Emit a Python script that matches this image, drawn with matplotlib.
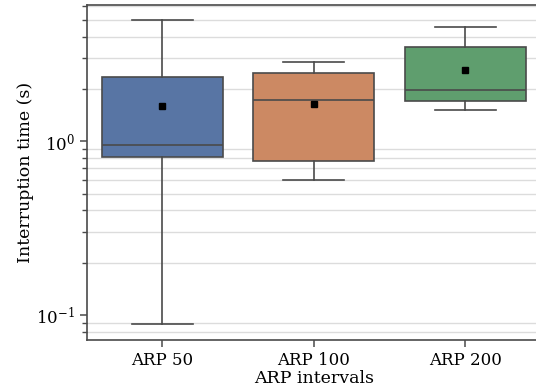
import numpy as np
import matplotlib
matplotlib.use('Agg')
import matplotlib.pyplot as plt
from matplotlib.ticker import LogLocator, NullFormatter

plt.rcParams['font.family'] = ['DejaVu Serif']

# box statistics (seconds)
categories = ['ARP 50', 'ARP 100', 'ARP 200']
whislo = [0.0884, 0.599, 1.52]
q1 = [0.815, 0.773, 1.70]
med = [0.948, 1.73, 1.97]
q3 = [2.35, 2.46, 3.48]
whishi = [4.99, 2.86, 4.53]
means = [1.60, 1.65, 2.56]

colors = ['#5875a4', '#cc8963', '#5f9e6e']
edge = '#4a4a4a'

stats = []
for i in range(len(categories)):
    stats.append({'label': categories[i], 'whislo': whislo[i], 'q1': q1[i], 'med': med[i],
                  'q3': q3[i], 'whishi': whishi[i], 'mean': means[i], 'fliers': []})

fig = plt.figure(figsize=(5.36, 3.9), dpi=100)
ax = fig.add_axes([86.5 / 536, 50 / 390, 454.5 / 536, 335 / 390])

pos = np.arange(len(categories))
bp = ax.bxp(stats, positions=pos, widths=0.8, patch_artist=True, showmeans=True,
            showfliers=False, capwidths=0.4,
            boxprops=dict(edgecolor=edge, linewidth=1.2),
            whiskerprops=dict(color=edge, linewidth=1.2),
            capprops=dict(color=edge, linewidth=1.2),
            medianprops=dict(color=edge, linewidth=1.2),
            meanprops=dict(marker='s', markerfacecolor='black', markeredgecolor='black',
                           markersize=4.5))
for patch, c in zip(bp['boxes'], colors):
    patch.set_facecolor(c)
    patch.set_zorder(2)

ax.set_yscale('log')
ax.set_ylim(0.0718, 6.09)
ax.set_xlim(-0.5, 2.5)
ax.yaxis.set_minor_locator(LogLocator(base=10, subs=np.arange(2, 10)))
ax.yaxis.set_minor_formatter(NullFormatter())
ax.grid(False)
ax.yaxis.grid(True, which='minor', color='#dcdcdc', linewidth=1.0)
ax.set_axisbelow(True)

ax.set_xticks(pos)
ax.set_xticklabels(categories)
ax.tick_params(axis='both', which='major', labelsize=12, length=5, width=1.1, color=edge)
ax.tick_params(axis='y', which='minor', length=3.5, width=1.0, color=edge)
for s in ax.spines.values():
    s.set_color(edge)
    s.set_linewidth(1.2)

ax.set_xlabel('ARP intervals', fontsize=12.5, labelpad=1)
ax.set_ylabel('Interruption time (s)', fontsize=12.5, labelpad=1.5)

fig.savefig('out.png', dpi=100)
